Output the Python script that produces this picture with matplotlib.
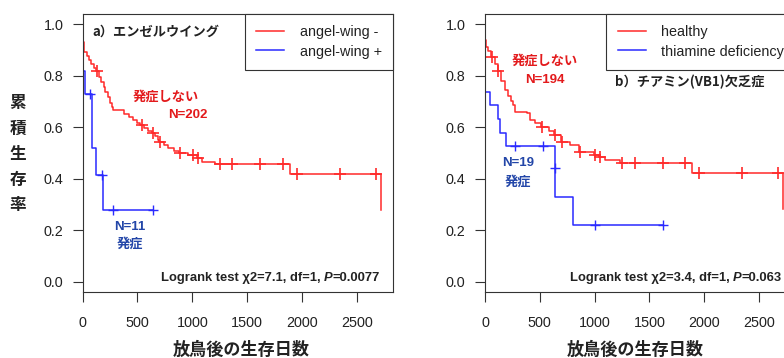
import numpy as np
import matplotlib
matplotlib.use("Agg")
import matplotlib.pyplot as plt

plt.rcParams['font.family'] = ['Liberation Sans', 'Noto Sans CJK JP', 'DejaVu Sans']
JP = ['Noto Sans CJK JP', 'Liberation Sans']

# ---------------- データ ----------------
# a) エンゼルウイング
a_neg_t = [0, 5, 15, 40, 60, 80, 100, 125, 150, 170, 190, 205, 230, 250, 265, 280,
           380, 420, 460, 500, 520, 560, 600, 630, 660, 690, 700, 740, 780, 830, 880,
           960, 1040, 1088, 1209, 1891, 2720]
a_neg_s = [1.0, 0.93, 0.89, 0.875, 0.86, 0.845, 0.83, 0.816, 0.795, 0.775, 0.755, 0.735,
           0.715, 0.695, 0.68, 0.665, 0.65, 0.638, 0.626, 0.615, 0.608, 0.598, 0.585,
           0.577, 0.565, 0.55, 0.543, 0.532, 0.52, 0.508, 0.498, 0.49, 0.48, 0.463,
           0.456, 0.418, 0.278]
a_neg_cens = [130, 540, 640, 705, 890, 1006, 1052, 1254, 1363, 1618, 1828, 1955, 2348, 2676]

a_pos_t = [0, 3, 20, 82, 86, 125, 188]
a_pos_s = [1.0, 0.818, 0.727, 0.623, 0.519, 0.415, 0.277]
a_pos_cens = [65, 173, 277, 641]

# b) チアミン(VB1)欠乏症
b_h_t = [0, 3, 9, 30, 55, 90, 115, 150, 182, 210, 240, 258, 274, 380, 411, 460, 510,
         580, 630, 690, 776, 860, 990, 1040, 1095, 1230, 1886, 2716]
b_h_s = [1.0, 0.94, 0.912, 0.895, 0.871, 0.845, 0.816, 0.78, 0.744, 0.72, 0.70, 0.686,
         0.66, 0.653, 0.627, 0.615, 0.601, 0.585, 0.569, 0.543, 0.53, 0.504, 0.492,
         0.485, 0.472, 0.462, 0.423, 0.282]
b_h_cens = [61, 121, 517, 639, 700, 867, 1004, 1049, 1247, 1369, 1627, 1825, 1955, 2348, 2676]

b_t_t = [0, 3, 46, 121, 137, 189, 635, 642, 806]
b_t_s = [1.0, 0.737, 0.684, 0.632, 0.579, 0.526, 0.44, 0.33, 0.22]
b_t_cens = [274, 526, 639, 1004, 1621]

x_ticks = [0, 500, 1000, 1500, 2000, 2500]
y_ticks = [0.0, 0.2, 0.4, 0.6, 0.8, 1.0]

RED = '#ff2a2a'
BLUE = '#2a2aff'
RED_TXT = '#e31a1c'
BLUE_TXT = '#2346a8'


def km_line(t, s, cens):
    t_end = max(t[-1], max(cens))
    tt = list(t) + ([t_end] if t_end > t[-1] else [])
    ss = list(s) + ([s[-1]] if t_end > t[-1] else [])
    idx = np.searchsorted(t, cens, side='right') - 1
    cs = np.asarray(s)[idx]
    return tt, ss, cs


def draw_panel(ax, t1, s1, c1, t2, s2, c2, labels):
    tt, ss, cs = km_line(t1, s1, c1)
    ax.step(tt, ss, where='post', color=RED, lw=1.1, label=labels[0])
    ax.plot(c1, cs, ls='none', marker='+', ms=9, mew=1.2, color=RED)
    tt, ss, cs = km_line(t2, s2, c2)
    ax.step(tt, ss, where='post', color=BLUE, lw=1.1, label=labels[1])
    ax.plot(c2, cs, ls='none', marker='+', ms=7, mew=1.0, color=BLUE)

    ax.set_xlim(0, 2834)
    ax.set_ylim(-0.04, 1.041)
    ax.set_xticks(x_ticks)
    ax.set_yticks(y_ticks)
    ax.set_yticklabels(['%.1f' % v for v in y_ticks])
    ax.tick_params(axis='both', direction='out', length=7, width=0.8,
                   color='#333333', labelcolor='#222222', labelsize=10.4)
    ax.tick_params(axis='y', pad=7)
    ax.tick_params(axis='x', pad=10)
    for sp in ax.spines.values():
        sp.set_color('#333333')
        sp.set_linewidth(0.8)

    leg = ax.legend(loc='upper right', borderaxespad=0, fancybox=False,
                    edgecolor='#333333', framealpha=1, fontsize=10.4,
                    borderpad=0.8, handlelength=1.95, handletextpad=1.05,
                    labelspacing=0.38)
    leg.get_frame().set_linewidth(0.8)
    for txt in leg.get_texts():
        txt.set_color('#222222')


def logrank(ax, x, y, head, pval):
    t3 = ax.text(x, y, pval, ha='right', va='bottom', fontsize=9.4,
                 fontweight='bold', color='#222222')
    t2 = ax.annotate('P', xy=(0, 0), xycoords=t3, ha='right', va='bottom',
                     fontsize=9.4, fontweight='bold', style='italic', color='#222222')
    ax.annotate(head, xy=(0, 0), xycoords=t2, ha='right', va='bottom',
                fontsize=9.4, fontweight='bold', color='#222222')


fig = plt.figure(figsize=(7.84, 3.58), dpi=100)
W, H = 784, 358
ax_w = 310.6 / W
ax_b = 1 - 292 / H
ax_h = (292 - 13.5) / H
ax1 = fig.add_axes([82.7 / W, ax_b, ax_w, ax_h])
ax2 = fig.add_axes([485 / W, ax_b, ax_w, ax_h])

draw_panel(ax1, a_neg_t, a_neg_s, a_neg_cens, a_pos_t, a_pos_s, a_pos_cens,
           ['angel-wing -', 'angel-wing +'])
draw_panel(ax2, b_h_t, b_h_s, b_h_cens, b_t_t, b_t_s, b_t_cens,
           ['healthy', 'thiamine deficiency'])

# パネルa 注釈
ax1.text(85, 0.969, 'a）エンゼルウイング', family=JP, fontsize=9.5, fontweight='bold',
         ha='left', va='center', color='#222222')
ax1.text(460, 0.717, '発症しない', family=JP, fontsize=9.5, fontweight='bold',
         ha='left', va='center', color=RED_TXT)
ax1.text(779, 0.647, 'N=202', fontsize=9.5, fontweight='bold',
         ha='left', va='center', color=RED_TXT)
ax1.text(432, 0.212, 'N=11', fontsize=9.5, fontweight='bold',
         ha='center', va='center', color=BLUE_TXT)
ax1.text(432, 0.146, '発症', family=JP, fontsize=9.5, fontweight='bold',
         ha='center', va='center', color=BLUE_TXT)
logrank(ax1, 2714, -0.01, 'Logrank test χ2=7.1, df=1, ', '=0.0077')

# パネルb 注釈
ax2.text(246, 0.856, '発症しない', family=JP, fontsize=9.5, fontweight='bold',
         ha='left', va='center', color=RED_TXT)
ax2.text(365, 0.783, 'N=194', fontsize=9.5, fontweight='bold',
         ha='left', va='center', color=RED_TXT)
ax2.text(1186, 0.775, 'b）チアミン(VB1)欠乏症', family=JP, fontsize=9.5, fontweight='bold',
         ha='left', va='center', color='#222222')
ax2.text(301, 0.461, 'N=19', fontsize=9.5, fontweight='bold',
         ha='center', va='center', color=BLUE_TXT)
ax2.text(301, 0.387, '発症', family=JP, fontsize=9.5, fontweight='bold',
         ha='center', va='center', color=BLUE_TXT)
logrank(ax2, 2710, -0.01, 'Logrank test χ2=3.4, df=1, ', '=0.063')

# 軸ラベル
for i, ch in enumerate('累積生存率'):
    fig.text(18 / W, 1 - (103 + 25.5 * i) / H, ch, family=JP, fontsize=12,
             fontweight='bold', ha='center', va='center', color='#222222')
fig.text(241.5 / W, 1 - 350 / H, '放鳥後の生存日数', family=JP, fontsize=12.3,
         fontweight='bold', ha='center', va='center', color='#222222')
fig.text(635 / W, 1 - 350 / H, '放鳥後の生存日数', family=JP, fontsize=12.3,
         fontweight='bold', ha='center', va='center', color='#222222')

fig.savefig('out.png', dpi=100)
